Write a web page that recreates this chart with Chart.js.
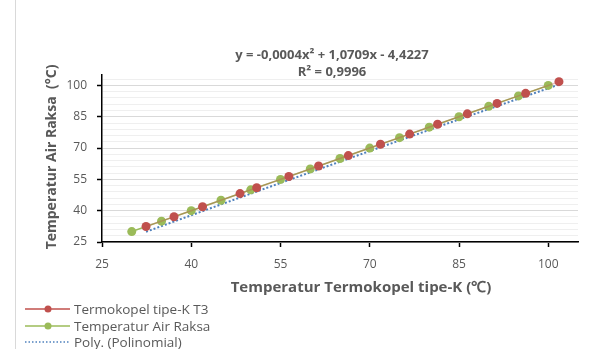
<!DOCTYPE html>
<html>
<head>
<meta charset="utf-8">
<script src="https://cdn.jsdelivr.net/npm/chart.js@4"></script>
<style>
  body { margin: 0; background: #fff; }
  #wrap { position: relative; width: 589px; height: 349px; overflow: hidden; }
  #edge { position: absolute; left: 15px; top: 0; width: 1px; height: 349px; background: #d9d9d9; }
  #legend { position: absolute; left: 25px; top: 301px; font: 13.5px 'Open Sans', sans-serif; color: #595959; }
  #legend div { height: 16.5px; line-height: 16.5px; display: flex; align-items: center; white-space: nowrap; }
  #legend svg { margin-right: 4px; }
</style>
</head>
<body>
<div id="wrap">
  <div id="edge"></div>
  <canvas id="chart" width="589" height="349"></canvas>
  <div id="legend"></div>
</div>
<script>
const airRaksa = [30, 35, 40, 45, 50, 55, 60, 65, 70, 75, 80, 85, 90, 95, 100]
const termokopelT3 = [32.4, 37.1, 41.9, 48.2, 51.0, 56.4, 61.4, 66.4, 71.8, 76.7, 81.4, 86.4, 91.4, 96.2, 101.8]
const polyX = [32.4, 48.2, 66.4, 81.4, 101.8]
const polyY = [29.9, 46.3, 64.9, 80.1, 100.4]
const xTicks = [25, 40, 55, 70, 85, 100]
const yTicks = [25, 40, 55, 70, 85, 100]
const equation = ['y = -0,0004x² + 1,0709x - 4,4227', 'R² = 0,9996']
const xTitle = 'Temperatur Termokopel tipe-K (℃)'
const yTitle = 'Temperatur Air Raksa  (°C)'

const red = '#c0504d'
const green = '#9bbb59'
const blue = '#4f81bd'
const textGrey = '#595959'
const font = 'Open Sans'

const pairs = (xs, ys) => xs.map((x, i) => ({ x: x, y: ys[i] }))

// trendline label and axis titles, placed like the Excel original
const labels = {
  id: 'labels',
  afterDraw(chart) {
    const c = chart.ctx
    c.save()
    c.fillStyle = textGrey
    c.textAlign = 'center'
    c.textBaseline = 'middle'
    c.font = 'bold 13px ' + font
    c.fillText(equation[0], 332, 55)
    c.fillText(equation[1], 332, 72)
    c.font = 'bold 15px ' + font
    c.fillText(xTitle, 361, 288)
    c.translate(52, 157)
    c.rotate(-Math.PI / 2)
    c.font = 'bold 14px ' + font
    c.fillText(yTitle, 0, 0)
    c.restore()
  }
}

new Chart(document.getElementById('chart'), {
  type: 'scatter',
  data: {
    datasets: [{
      label: 'Termokopel tipe-K T3',
      data: pairs(termokopelT3, termokopelT3),
      showLine: true,
      // red line sits over the green one, the two mix to olive
      borderColor: 'rgba(192,80,77,0.35)',
      backgroundColor: red,
      borderWidth: 1.5,
      pointRadius: 4.5,
      pointHoverRadius: 4.5,
      pointBorderWidth: 0
    },
    {
      label: 'Temperatur Air Raksa',
      data: pairs(airRaksa, airRaksa),
      showLine: true,
      borderColor: green,
      backgroundColor: green,
      borderWidth: 1.5,
      pointRadius: 4.5,
      pointHoverRadius: 4.5,
      pointBorderWidth: 0
    },
    {
      label: 'Poly. (Polinomial)',
      data: pairs(polyX, polyY),
      showLine: true,
      borderColor: blue,
      borderWidth: 2,
      borderDash: [2, 2],
      cubicInterpolationMode: 'monotone',
      pointRadius: 0
    }]
  },
  options: {
    responsive: false,
    animation: false,
    layout: { padding: { left: 44, right: 11, top: 75, bottom: 53 } },
    plugins: {
      legend: { display: false },
      tooltip: { enabled: false }
    },
    scales: {
      x: {
        type: 'linear',
        min: 25,
        max: 105,
        afterBuildTicks: s => { s.ticks = xTicks.map(v => ({ value: v })) },
        afterFit: s => { s.height = 54 },
        border: { color: '#000', width: 1.5 },
        grid: { drawOnChartArea: false, tickLength: 5, tickColor: '#000', tickWidth: 1.5 },
        ticks: { color: textGrey, font: { family: font, size: 12 }, padding: 10 }
      },
      y: {
        type: 'linear',
        min: 25,
        max: 105,
        afterBuildTicks: s => {
          const t = []
          for (let v = 25; v <= 103; v += 3) t.push({ value: v })
          s.ticks = t
        },
        afterFit: s => { s.width = 58 },
        border: { color: '#000', width: 1.5 },
        grid: {
          color: c => (c.tick && yTicks.includes(c.tick.value)) ? '#d9d9d9' : '#efefef',
          lineWidth: 1,
          tickLength: 5,
          tickColor: c => (c.tick && yTicks.includes(c.tick.value)) ? '#000' : 'rgba(0,0,0,0)',
          tickWidth: 1.5
        },
        ticks: {
          color: textGrey,
          font: { family: font, size: 12 },
          padding: 10,
          autoSkip: false,
          callback: v => yTicks.includes(v) ? v : ''
        }
      }
    }
  },
  plugins: [labels]
})

const legendItems = [
  { text: 'Termokopel tipe-K T3', color: red, dot: true },
  { text: 'Temperatur Air Raksa', color: green, dot: true },
  { text: 'Poly. (Polinomial)', color: blue, dot: false }
]
document.getElementById('legend').innerHTML = legendItems.map(item => {
  const line = item.dot
    ? `<line x1="0" y1="5" x2="45" y2="5" stroke="${item.color}" stroke-width="1.5"/><circle cx="23" cy="5" r="3.5" fill="${item.color}"/>`
    : `<line x1="0" y1="5" x2="45" y2="5" stroke="${item.color}" stroke-width="1.5" stroke-dasharray="1.5,2"/>`
  return `<div><svg width="45" height="10">${line}</svg>${item.text}</div>`
}).join('')
</script>
</body>
</html>
